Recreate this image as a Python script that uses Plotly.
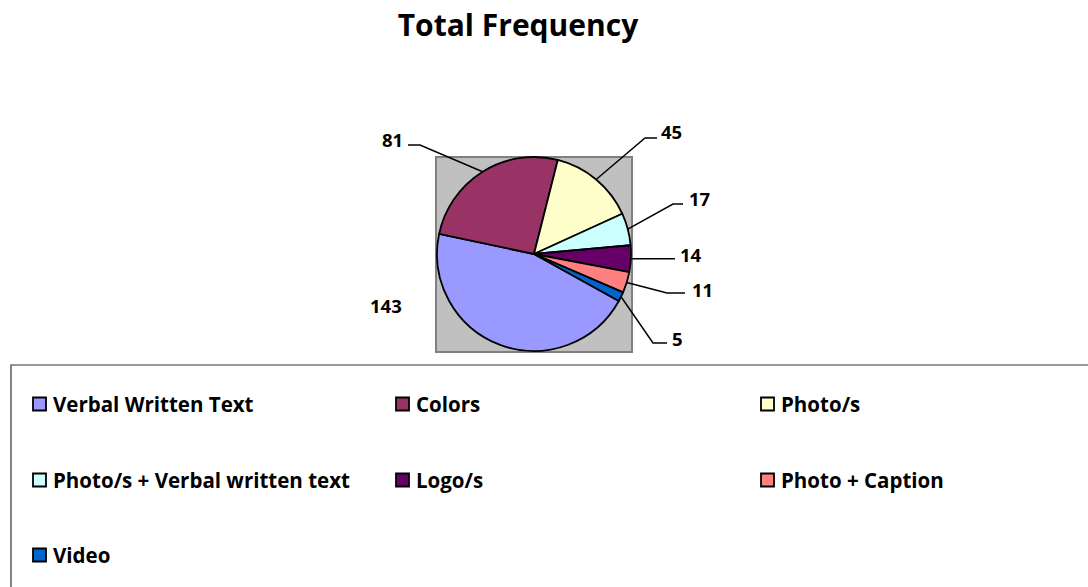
import math
import plotly.graph_objects as go

# ---- data -------------------------------------------------------------
categories = ["Verbal Written Text", "Colors", "Photo/s",
              "Photo/s + Verbal written text", "Logo/s", "Photo + Caption", "Video"]
values = [143, 81, 45, 17, 14, 11, 5]
colors = ["#9999FF", "#993366", "#FFFFCC", "#CCFFFF", "#660066", "#FF8080", "#0066CC"]

# ---- canvas geometry (pixels) ------------------------------------------
W, H = 1088, 587
FONT = "Open Sans"
CX, CY, R = 534, 254, 97          # pie centre and radius
START = 119                       # angle of first slice edge, clockwise from 12 o'clock

def px(x):
    return x / W

def py(y):
    return 1 - y / H

# label centre, elbow point, label-side end of leader (None = no leader)
label_layout = [
    ((386, 305), None, None),
    ((392, 140), (420, 145), (408, 145)),
    ((671, 132), (645, 138), (657, 138)),
    ((699, 198), (673, 204), (683, 204)),
    ((691, 254), (662, None), (675, None)),
    ((702, 289), (667, 293), (685, 293)),
    ((677, 338), (653, 343), (667, 343)),
]

fig = go.Figure()
fig.add_trace(go.Pie(
    labels=categories,
    values=values,
    sort=False,
    direction="clockwise",
    rotation=START,
    marker=dict(colors=colors, line=dict(color="black", width=1.8)),
    textinfo="none",
    hoverinfo="label+value",
    showlegend=False,
    domain=dict(x=[px(CX - R), px(CX + R)], y=[py(CY + R), py(CY - R)]),
))

shapes = []
annotations = []

# grey plot area behind the pie
shapes.append(dict(type="rect", xref="paper", yref="paper",
                   x0=px(436), x1=px(632), y0=py(352), y1=py(157),
                   fillcolor="#C0C0C0", line=dict(color="#808080", width=2),
                   layer="below"))

# value labels with leader lines from the slice edges
total = sum(values)
cum = 0.0
for v, (lab, elbow, end) in zip(values, label_layout):
    mid = START + (cum + v / 2) / total * 360
    cum += v
    a = math.radians(mid)
    ex, ey = CX + R * math.sin(a), CY - R * math.cos(a)
    annotations.append(dict(xref="paper", yref="paper", x=px(lab[0]), y=py(lab[1]),
                            text=f"<b>{v}</b>", showarrow=False,
                            xanchor="center", yanchor="middle",
                            font=dict(family=FONT, size=18.5, color="black")))
    if elbow is not None:
        bx, by = elbow
        tx, ty = end
        if by is None:
            by = ey
        if ty is None:
            ty = ey
        path = (f"M {px(ex)} {py(ey)} L {px(bx)} {py(by)} L {px(tx)} {py(ty)}")
        shapes.append(dict(type="path", xref="paper", yref="paper", path=path,
                           line=dict(color="black", width=1.5)))

# legend box
shapes.append(dict(type="rect", xref="paper", yref="paper",
                   x0=px(11), x1=px(1100), y0=py(600), y1=py(365),
                   fillcolor="rgba(0,0,0,0)", line=dict(color="#333333", width=1.2)))

col_x = [33, 396, 761]
row_y = [404, 480, 555]
for i, (name, c) in enumerate(zip(categories, colors)):
    x0 = col_x[i % 3]
    yc = row_y[i // 3]
    shapes.append(dict(type="rect", xref="paper", yref="paper",
                       x0=px(x0), x1=px(x0 + 13), y0=py(yc + 6.5), y1=py(yc - 6.5),
                       fillcolor=c, line=dict(color="black", width=1.8)))
    annotations.append(dict(xref="paper", yref="paper", x=px(x0 + 18), y=py(yc),
                            text=f"<b>{name}</b>", showarrow=False,
                            xanchor="left", yanchor="middle",
                            font=dict(family=FONT, size=20.5, color="black")))

fig.update_layout(
    width=W, height=H,
    margin=dict(l=0, r=0, t=0, b=0),
    paper_bgcolor="white",
    plot_bgcolor="white",
    title=dict(text="<b>Total Frequency</b>", x=px(518), xanchor="center",
               y=py(25), yanchor="middle",
               font=dict(family=FONT, size=30, color="black")),
    shapes=shapes,
    annotations=annotations,
)

fig.write_html("out.html")
